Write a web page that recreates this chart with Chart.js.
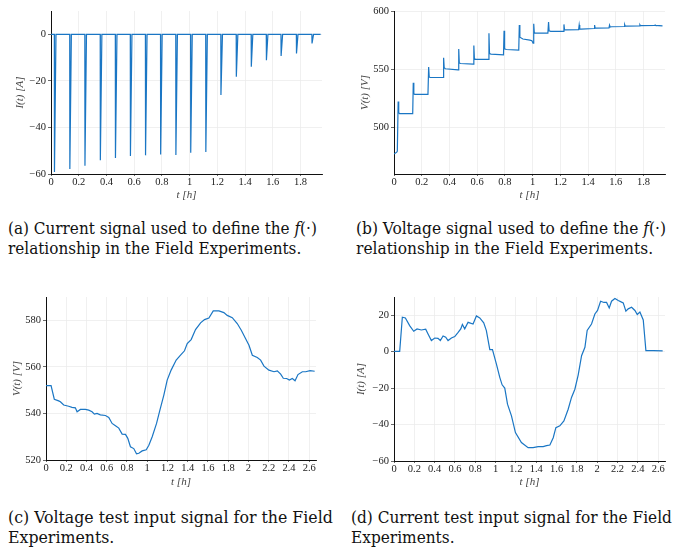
<!DOCTYPE html>
<html>
<head>
<meta charset="utf-8">
<script src="https://cdn.jsdelivr.net/npm/chart.js@4.4.1/dist/chart.umd.min.js"></script>
<style>
  html, body { margin: 0; padding: 0; background: #fff; width: 673px; height: 549px; overflow: hidden; }
  canvas { position: absolute; }
  .cap { position: absolute; font-family: "DejaVu Serif Condensed", "DejaVu Serif", "Liberation Serif", serif;
         font-stretch: semi-condensed; font-size: 14px; line-height: 20px; color: #111; white-space: nowrap; }
  .cap span { display: inline-block; }
</style>
</head>
<body>
<canvas id="pa" width="330" height="205" style="left:0;top:0"></canvas>
<canvas id="pb" width="330" height="205" style="left:340px;top:0"></canvas>
<canvas id="pc" width="330" height="205" style="left:0;top:285px"></canvas>
<canvas id="pd" width="330" height="205" style="left:340px;top:285px"></canvas>

<div class="cap" data-w="309" style="left:8px;top:218px"><span>(a) Current signal used to define the <i>f</i>(·)</span><br>relationship in the Field Experiments.</div>
<div class="cap" data-w="310" style="left:356px;top:218px"><span>(b) Voltage signal used to define the <i>f</i>(·)</span><br>relationship in the Field Experiments.</div>
<div class="cap" data-w="325" style="left:8px;top:507px"><span>(c) Voltage test input signal for the Field</span><br>Experiments.</div>
<div class="cap" data-w="321" style="left:351px;top:507px"><span>(d) Current test input signal for the Field</span><br>Experiments.</div>

<script>
// (a) current pulses: start time [h] and depth [A] of each discharge pulse
const pulseTimes  = [0.024, 0.135, 0.244, 0.355, 0.464, 0.572, 0.681, 0.790, 0.900,
                     1.007, 1.116, 1.225, 1.336, 1.444, 1.553, 1.659, 1.770, 1.882];
const pulseDepths = [-59.1, -57.9, -56.5, -54.1, -53.1, -52.3, -52.0, -51.6, -51.8,
                     -50.9, -50.5, -26.1, -18.2, -13.9, -11.1, -9.3, -8.2, -3.9];
const pulseEnd = 1.945;

// (b) voltage response during the pulse sequence
const vStepT = [0, 0.02, 0.024, 0.03, 0.034, 0.04, 0.135, 0.139, 0.143, 0.15, 0.245, 0.25, 0.254, 0.26,
  0.354, 0.358, 0.362, 0.37, 0.462, 0.467, 0.471, 0.48, 0.572, 0.576, 0.58, 0.59, 0.681, 0.685, 0.689, 0.7,
  0.79, 0.794, 0.798, 0.81, 0.9, 0.904, 0.908, 0.93, 0.98, 0.995, 1.003, 1.008, 1.012, 1.02, 1.11, 1.115,
  1.119, 1.13, 1.222, 1.226, 1.23, 1.24, 1.332, 1.336, 1.34, 1.35, 1.443, 1.447, 1.451, 1.46, 1.551, 1.555,
  1.559, 1.57, 1.66, 1.664, 1.668, 1.68, 1.77, 1.774, 1.778, 1.88, 1.884, 1.888, 1.937];
const vStepV = [477.5, 479, 480, 522.5, 513, 512, 512, 538.5, 529, 528.5, 528.5, 552, 543.5, 543,
  543, 560, 551.5, 550.5, 549.5, 567.5, 555.5, 555, 554.5, 570.5, 559, 558.5, 558.5, 581, 563.5, 563,
  562.5, 583, 567.5, 567, 566.5, 588, 577.5, 576, 575, 574.5, 572.5, 589, 581.5, 581, 581, 590.5,
  583, 582.5, 582.5, 588.5, 584, 583.8, 584, 588, 584.5, 584.5, 585, 588, 585.3, 585.3, 585.5, 587.8,
  586.3, 586.5, 586.7, 588.3, 587, 587.1, 587.2, 588.2, 587.4, 587.6, 588, 587.6, 587.2];

// (c) voltage test input
const vTestT = [0, 0.05, 0.082, 0.125, 0.142, 0.175, 0.224, 0.257, 0.29, 0.307, 0.34, 0.389, 0.422, 0.455,
  0.478, 0.504, 0.537, 0.587, 0.62, 0.653, 0.686, 0.719, 0.752, 0.785, 0.808, 0.834, 0.867, 0.894, 0.917,
  0.95, 0.99, 1.016, 1.049, 1.092, 1.125, 1.164, 1.197, 1.236, 1.286, 1.329, 1.368, 1.395, 1.434, 1.477,
  1.527, 1.566, 1.609, 1.652, 1.708, 1.757, 1.79, 1.84, 1.889, 1.929, 1.972, 2.005, 2.038, 2.087, 2.12,
  2.153, 2.202, 2.252, 2.285, 2.318, 2.344, 2.377, 2.404, 2.433, 2.46, 2.489, 2.532, 2.565, 2.608, 2.654];
const vTestV = [551.9, 551.9, 546.1, 545.4, 545, 543.6, 543.1, 542.6, 542.4, 540.7, 541.7, 541.7, 541.4,
  540.7, 539.7, 540, 539.4, 539.1, 538.3, 535.7, 534.7, 533.7, 531.1, 531, 529.3, 525.7, 524.9, 522.7,
  522.9, 523.9, 524.4, 526.3, 530, 535.7, 541.4, 547.9, 554.3, 558.6, 562.9, 565, 566.9, 570, 571.7, 576,
  578.9, 580.3, 581, 584, 584, 583.3, 582.1, 581.1, 578.6, 575.7, 572.1, 569.3, 565, 564, 562.9, 560.3,
  558.6, 557.9, 558.3, 556.9, 555.1, 555, 554.3, 555, 554, 556.7, 557.9, 557.9, 558.4, 558.1];

// (d) current test input
const iTestT = [0, 0.056, 0.082, 0.112, 0.154, 0.194, 0.227, 0.269, 0.312, 0.335, 0.368, 0.401, 0.433,
  0.456, 0.483, 0.509, 0.532, 0.565, 0.598, 0.631, 0.657, 0.673, 0.696, 0.729, 0.778, 0.811, 0.844, 0.883,
  0.909, 0.943, 0.969, 1.008, 1.041, 1.064, 1.09, 1.117, 1.156, 1.195, 1.254, 1.32, 1.369, 1.419, 1.468,
  1.501, 1.534, 1.567, 1.593, 1.632, 1.672, 1.714, 1.747, 1.78, 1.813, 1.846, 1.879, 1.901, 1.944, 1.977,
  2.003, 2.033, 2.066, 2.092, 2.118, 2.141, 2.174, 2.207, 2.24, 2.256, 2.282, 2.305, 2.338, 2.371, 2.394,
  2.42, 2.453, 2.479, 2.552, 2.644];
const iTestI = [0.2, 0.2, 18.9, 18.5, 14.3, 11.2, 12.5, 11.9, 12.3, 9.7, 6.1, 7.5, 7.3, 6.1, 8.6, 7.9, 6.1,
  7.5, 8.3, 10.6, 12.5, 14.9, 12.5, 16.1, 15.2, 19.6, 18.5, 15.8, 11.6, 1.1, 1.1, -6.8, -14.1, -18.2, -20,
  -28.8, -35.2, -44.4, -49.9, -52.7, -52.7, -52.1, -52.1, -51.6, -51.2, -47.2, -41.7, -40.7, -38, -31.6,
  -25.1, -20.6, -12.7, -2.2, 2.4, 11.6, 15.2, 20.7, 22.6, 27.7, 27, 27, 24, 27.7, 29.2, 28.1, 27.2, 26.8,
  22.2, 23.5, 24.4, 22.6, 20.4, 21.7, 17.4, 0.6, 0.6, 0.4];

const LINE = '#1a76c4';
const TICK_FONT = { family: '"Liberation Serif", serif', size: 10.5 };
const TITLE_FONT = { family: '"Liberation Serif", serif', size: 11, style: 'italic' };

// size each caption so its first line spans the column width
document.querySelectorAll('.cap').forEach(el => {
  const w = el.querySelector('span').getBoundingClientRect().width;
  el.style.fontSize = (14 * (+el.dataset.w) / w).toFixed(2) + 'px';
});

function zip(xs, ys) { return xs.map((x, i) => ({ x: x, y: ys[i] })); }

// pulse train: sharp drop at each start time, quick recovery back to zero
function pulseTrain(times, depths, end) {
  const pts = [{ x: 0, y: 0 }];
  times.forEach((t, i) => {
    pts.push({ x: t, y: 0 }, { x: t + 0.001, y: depths[i] }, { x: t + 0.012, y: 0 });
  });
  pts.push({ x: end, y: 0 });
  return pts;
}

function fmt(v) {
  const r = Math.round(v * 10) / 10;
  return (r < 0 ? '\u2212' : '') + String(Math.abs(r));
}

function panel(id, points, ax, g) {
  new Chart(document.getElementById(id), {
    type: 'line',
    data: { datasets: [{ data: points, borderColor: LINE, borderWidth: 1.2, pointRadius: 0,
                         tension: 0, fill: false }] },
    options: {
      responsive: false, animation: false, events: [],
      layout: { padding: { top: g.top, right: g.right, left: 0, bottom: 0 } },
      plugins: { legend: { display: false }, tooltip: { enabled: false } },
      scales: {
        x: {
          type: 'linear', min: 0, max: ax.xMax,
          ticks: { stepSize: ax.xStep, includeBounds: false, callback: fmt, font: TICK_FONT,
                   color: '#222', padding: 0, maxRotation: 0, autoSkip: false },
          grid: { color: '#ececec', lineWidth: 0.8, tickLength: 2, tickColor: '#444' },
          border: { color: '#111', width: 1 },
          title: { display: true, text: 't [h]', font: TITLE_FONT, color: '#444',
                   padding: { top: 0, bottom: g.xt } },
          afterFit(s) { s.height = g.xh; }
        },
        y: {
          type: 'linear', min: ax.yMin, max: ax.yMax,
          ticks: { stepSize: ax.yStep, includeBounds: false, callback: fmt, font: TICK_FONT,
                   color: '#222', padding: 2 },
          grid: { color: '#ececec', lineWidth: 0.8, tickLength: 3, tickColor: '#444' },
          border: { color: '#111', width: 1 },
          title: { display: true, text: ax.yTitle, font: TITLE_FONT, color: '#444',
                   padding: { top: g.yt, bottom: 0 } },
          afterFit(s) { s.width = g.yw; }
        }
      }
    }
  });
}

panel('pa', pulseTrain(pulseTimes, pulseDepths, pulseEnd),
      { xMax: 1.955, xStep: 0.2, yMin: -60, yMax: 10, yStep: 20, yTitle: 'I(t) [A]' },
      { top: 11, right: 8, yw: 51, xh: 31, yt: 13.5, xt: 3 });
panel('pb', zip(vStepT, vStepV),
      { xMax: 1.955, xStep: 0.2, yMin: 460.3, yMax: 600, yStep: 50, yTitle: 'V(t) [V]' },
      { top: 11, right: 5, yw: 54, xh: 31, yt: 18.5, xt: 3 });
panel('pc', zip(vTestT, vTestV),
      { xMax: 2.667, xStep: 0.2, yMin: 520, yMax: 590, yStep: 20, yTitle: 'V(t) [V]' },
      { top: 12, right: 14, yw: 46, xh: 30, yt: 10.5, xt: 1 });
panel('pd', zip(iTestT, iTestI),
      { xMax: 2.667, xStep: 0.2, yMin: -60, yMax: 30, yStep: 20, yTitle: 'I(t) [A]' },
      { top: 12, right: 5, yw: 54, xh: 29, yt: 15, xt: 1 });
</script>
</body>
</html>
